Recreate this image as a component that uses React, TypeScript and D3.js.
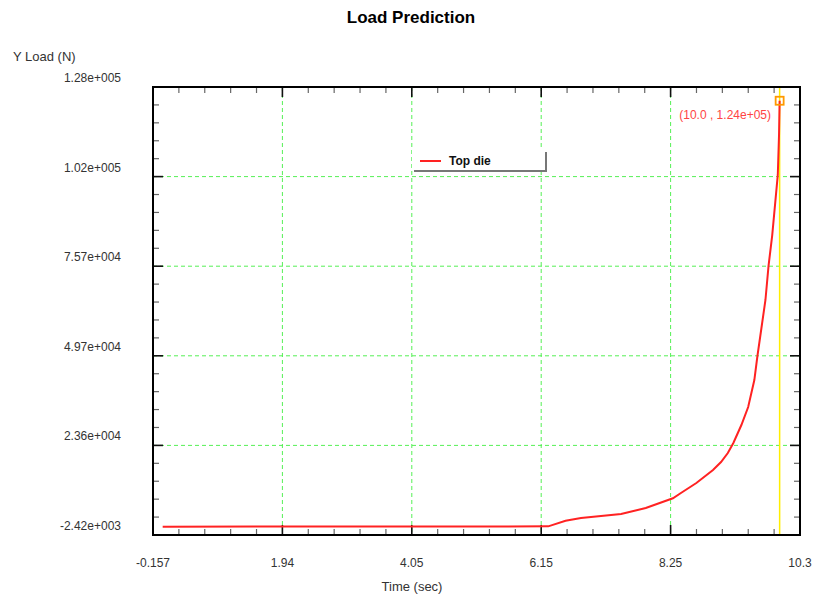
import React from "react";
import * as d3 from "d3";

const timeValues = [0, 6.25, 6.53, 6.78, 7.43, 7.83, 8.27, 8.4, 8.65, 8.92, 9.05, 9.16, 9.25, 9.38, 9.49, 9.59, 9.64, 9.77, 9.82, 9.88, 9.97, 9.99, 10.0];
const loadValues = [0, 100, 1740, 2530, 3690, 5440, 8260, 9810, 12720, 16500, 18830, 21450, 24360, 29600, 34840, 42700, 49690, 66000, 75900, 84900, 102400, 114000, 124000];
const xTickLabels = ["-0.157", "1.94", "4.05", "6.15", "8.25", "10.3"];
const yTickLabels = ["-2.42e+003", "2.36e+004", "4.97e+004", "7.57e+004", "1.02e+005", "1.28e+005"];
const xDomain = [-0.157, 10.33];
const yDomain = [-2420, 128000];
const seriesName = "Top die";
const markerPoint = { x: 10.0, y: 124000, label: "(10.0 , 1.24e+05)" };

export default function App() {
  const W = 814, H = 598;
  const L = 153, R = 800, T = 87, B = 535;
  const x = d3.scaleLinear().domain(xDomain).range([L, R]);
  const y = d3.scaleLinear().domain(yDomain).range([B, T]);
  const nMaj = 5, nSub = 5;
  const xMaj = d3.range(nMaj + 1).map((i) => xDomain[0] + (i * (xDomain[1] - xDomain[0])) / nMaj);
  const yMaj = d3.range(nMaj + 1).map((i) => yDomain[0] + (i * (yDomain[1] - yDomain[0])) / nMaj);
  const xMin = d3.range(nMaj * nSub + 1).filter((i) => i % nSub !== 0).map((i) => xDomain[0] + (i * (xDomain[1] - xDomain[0])) / (nMaj * nSub));
  const yMin = d3.range(nMaj * nSub + 1).filter((i) => i % nSub !== 0).map((i) => yDomain[0] + (i * (yDomain[1] - yDomain[0])) / (nMaj * nSub));
  const data = timeValues.map((t, i) => [t, loadValues[i]] as [number, number]);
  const line = d3.line<[number, number]>().x((d) => x(d[0])).y((d) => y(d[1]));
  const majLen = 10, minLen = 6;
  const font = "'Liberation Sans', Arial, sans-serif";
  const grid = "#55f055";
  const mx = x(markerPoint.x), my = y(markerPoint.y);

  return (
    <svg width={W} height={H} style={{ position: "absolute", left: 0, top: 0 }} fontFamily={font}>
      <rect x={0} y={0} width={W} height={H} fill="#fff" />
      <text x={411} y={23} textAnchor="middle" fontSize={17} fontWeight="bold" fill="#000">Load Prediction</text>
      <text x={13} y={61} fontSize={13} fill="#333">Y Load (N)</text>
      <text x={412} y={591} textAnchor="middle" fontSize={13} fill="#333">Time (sec)</text>

      {/* grid */}
      {xMaj.slice(1, -1).map((v, i) => (
        <line key={"gx" + i} x1={x(v)} x2={x(v)} y1={T} y2={B} stroke={grid} strokeWidth={1} strokeDasharray="4,3" />
      ))}
      {yMaj.slice(1, -1).map((v, i) => (
        <line key={"gy" + i} x1={L} x2={R} y1={y(v)} y2={y(v)} stroke={grid} strokeWidth={1} strokeDasharray="4,3" />
      ))}

      {/* minor ticks */}
      {xMin.map((v, i) => (
        <g key={"xm" + i} stroke="#666" strokeWidth={1.2}>
          <line x1={x(v)} x2={x(v)} y1={B} y2={B - minLen} />
          <line x1={x(v)} x2={x(v)} y1={T} y2={T + minLen} />
        </g>
      ))}
      {yMin.map((v, i) => (
        <g key={"ym" + i} stroke="#666" strokeWidth={1.2}>
          <line x1={L} x2={L + minLen} y1={y(v)} y2={y(v)} />
          <line x1={R} x2={R - minLen} y1={y(v)} y2={y(v)} />
        </g>
      ))}
      {/* major ticks */}
      {xMaj.map((v, i) => (
        <g key={"xM" + i} stroke="#111" strokeWidth={1.6}>
          <line x1={x(v)} x2={x(v)} y1={B} y2={B - majLen} />
          <line x1={x(v)} x2={x(v)} y1={T} y2={T + majLen} />
        </g>
      ))}
      {yMaj.map((v, i) => (
        <g key={"yM" + i} stroke="#111" strokeWidth={1.6}>
          <line x1={L} x2={L + majLen} y1={y(v)} y2={y(v)} />
          <line x1={R} x2={R - majLen} y1={y(v)} y2={y(v)} />
        </g>
      ))}

      {/* tick labels */}
      {xMaj.map((v, i) => (
        <text key={"xl" + i} x={x(v)} y={567} textAnchor="middle" fontSize={12} fill="#333">{xTickLabels[i]}</text>
      ))}
      {yMaj.map((v, i) => (
        <text key={"yl" + i} x={121} y={y(v) - 5} textAnchor="end" fontSize={12} fill="#333">{yTickLabels[i]}</text>
      ))}

      {/* yellow cursor */}
      <line x1={mx} x2={mx} y1={T} y2={B} stroke="#ffee00" strokeWidth={1.5} />

      {/* series */}
      <path d={line(data) || ""} fill="none" stroke="#ff2222" strokeWidth={2} />

      {/* marker */}
      <rect x={mx - 4} y={my - 4} width={8} height={8} fill="none" stroke="#ff9900" strokeWidth={1.8} />
      <text x={771} y={119} textAnchor="end" fontSize={12} fill="#ff4444">{markerPoint.label}</text>

      {/* box */}
      <rect x={L} y={T} width={R - L} height={B - T} fill="none" stroke="#000" strokeWidth={2} />

      {/* legend */}
      <rect x={414} y={152} width={133} height={20} fill="#777" />
      <rect x={412} y={149} width={133} height={21} fill="#fff" />
      <line x1={420} x2={441} y1={161} y2={161} stroke="#ff2222" strokeWidth={2} />
      <text x={449} y={165} fontSize={12} fontWeight="bold" fill="#111">{seriesName}</text>
    </svg>
  );
}
